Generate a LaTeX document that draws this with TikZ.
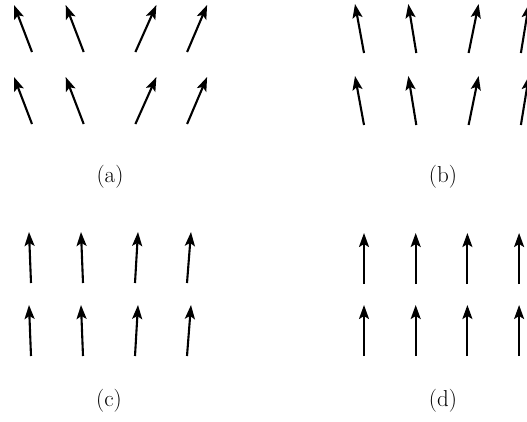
\documentclass[tikz,border=0pt]{standalone}
\usepackage{tikz}
\usetikzlibrary{calc,arrows.meta}

\begin{document}
\begin{tikzpicture}[x=1pt,y=-1pt]

\tikzset{spin/.style={line width=2.1pt,-{Stealth[length=14pt,width=10pt,inset=3pt]}},
caption/.style={font=\fontsize{23}{27}\selectfont,inner sep=0pt}}

\clip (0,0) rectangle (527,421);

% Panel (a): strong tilt
\foreach \i/\dx in {0/-18,1/-18,2/21,3/20}{
  \foreach \j/\yt in {0/52,1/124}{
    \coordinate (ta\i\j) at ({32+51.7*\i},\yt);
    \coordinate (ha\i\j) at ($(ta\i\j)+(\dx,-47)$);
    \draw[spin] (ta\i\j) -- (ha\i\j);
  }
}

% Panel (b): weaker tilt
\foreach \i/\dx in {0/-9,1/-8,2/10,3/8}{
  \foreach \j/\yt in {0/53,1/125}{
    \coordinate (tb\i\j) at ({364+52.3*\i},\yt);
    \coordinate (hb\i\j) at ($(tb\i\j)+(\dx,-49)$);
    \draw[spin] (tb\i\j) -- (hb\i\j);
  }
}

% Panel (c): almost aligned
\foreach \i/\dx in {0/-2,1/-2,2/3,3/4}{
  \foreach \j/\yt in {0/283,1/356}{
    \coordinate (tc\i\j) at ({31+52*\i},\yt);
    \coordinate (hc\i\j) at ($(tc\i\j)+(\dx,-51)$);
    \draw[spin] (tc\i\j) -- (hc\i\j);
  }
}

% Panel (d): aligned
\foreach \i in {0,...,3}{
  \foreach \j/\yt in {0/284,1/356}{
    \coordinate (td\i\j) at ({364+51.7*\i},\yt);
    \coordinate (hd\i\j) at ($(td\i\j)+(0,-51)$);
    \draw[spin] (td\i\j) -- (hd\i\j);
  }
}

% Captions
\node[caption] (capa) at (110,177) {(a)};
\node[caption] (capb) at (443,177) {(b)};
\node[caption] (capc) at (109,401) {(c)};
\node[caption] (capd) at (443,401) {(d)};

\end{tikzpicture}
\end{document}
